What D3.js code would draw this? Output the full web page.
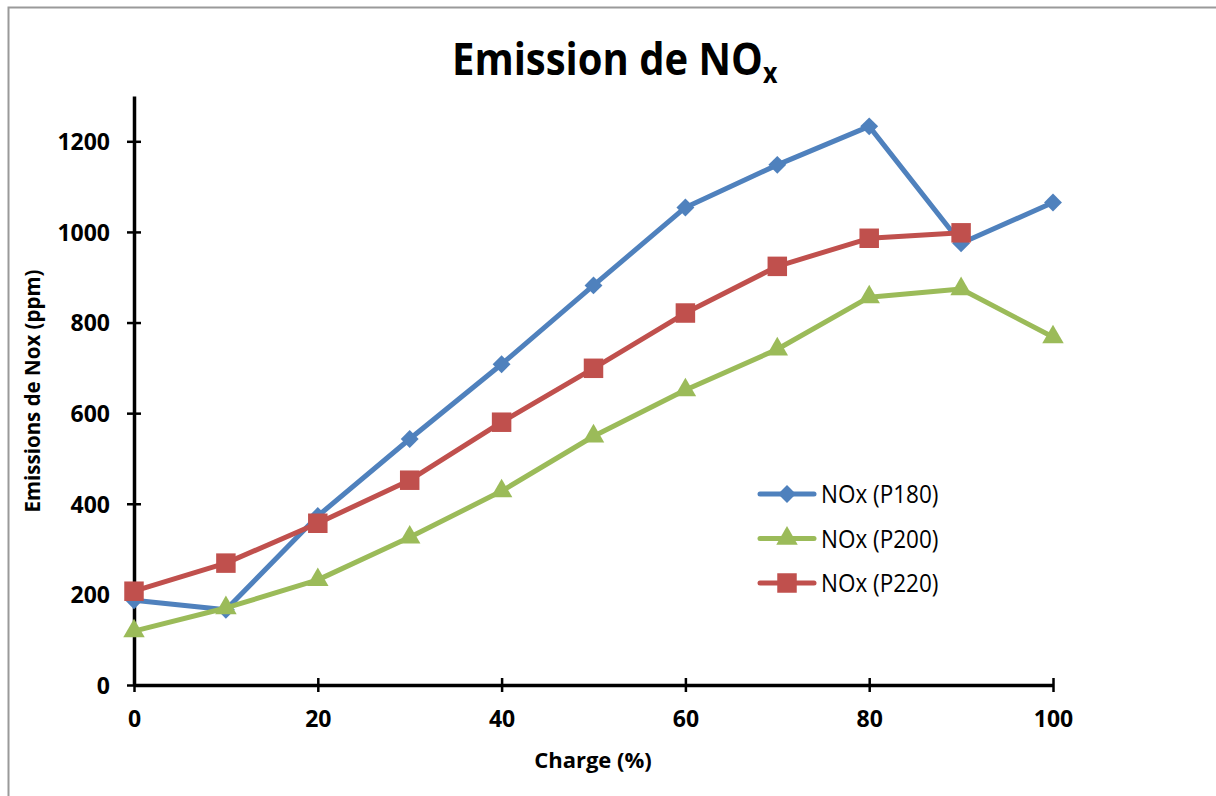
<!DOCTYPE html>
<html>
<head>
<meta charset="utf-8">
<script src="https://cdn.jsdelivr.net/npm/d3@7"></script>
<style>
  html, body { margin: 0; padding: 0; background: #fff; }
  svg { display: block; }
  .narrow { font-family: "Open Sans", "Liberation Sans", sans-serif; }
</style>
</head>
<body>
<svg id="chart" width="1216" height="796"></svg>
<script>
// Charge (%) values along the x axis
const charge = [0, 10, 20, 30, 40, 50, 60, 70, 80, 90, 100];

// NOx emissions (ppm) for each injection pressure
const noxP180 = [187, 166, 373, 543, 708, 882, 1054, 1148, 1233, 975, 1065];
const noxP200 = [119, 170, 232, 326, 428, 549, 651, 741, 856, 874, 768];
const noxP220 = [207, 269, 357, 452, 580, 699, 821, 924, 986, 998];

const xTicks = [0, 20, 40, 60, 80, 100];
const yTicks = [0, 200, 400, 600, 800, 1000, 1200];

const seriesNames = ["NOx (P180)", "NOx (P200)", "NOx (P220)"];

const series = [
  { name: seriesNames[0], values: noxP180, color: "#4F81BD", symbol: d3.symbolSquare, size: 160, rot: 45 },
  { name: seriesNames[1], values: noxP200, color: "#9BBB59", symbol: d3.symbolTriangle, size: 200, rot: 0 },
  { name: seriesNames[2], values: noxP220, color: "#C0504D", symbol: d3.symbolSquare, size: 380, rot: 0 }
];

const svg = d3.select("#chart");

// outer frame
svg.append("path")
  .attr("d", "M8.5,796 L8.5,7.5 L1216,7.5")
  .attr("fill", "none")
  .attr("stroke", "#9a9a9a")
  .attr("stroke-width", 2);

const x = d3.scaleLinear().domain([0, 100]).range([134, 1053]);
const y = d3.scaleLinear().domain([0, 1300]).range([685, 96]);

// title with subscript
const title = svg.append("text")
  .attr("class", "narrow")
  .attr("transform", "translate(452,75) scale(1,1.12)")
  .style("font-weight", "bold")
  .style("font-size", "40px")
  .attr("fill", "#000");
title.append("tspan").text("Emission de NO");
title.append("tspan")
  .attr("dy", 7)
  .style("font-size", "25px")
  .text("x");

// x axis
const xAxis = svg.append("g")
  .attr("transform", `translate(0,${y(0)})`)
  .call(d3.axisBottom(x).tickValues(xTicks).tickSize(7).tickSizeOuter(0).tickFormat(d3.format("d")));
xAxis.select(".domain").attr("stroke", "#000").attr("stroke-width", 3.5);
xAxis.selectAll(".tick line")
  .attr("y1", -7)
  .attr("y2", 7)
  .attr("stroke", "#000")
  .attr("stroke-width", 2.5);
xAxis.selectAll(".tick text")
  .attr("class", "narrow")
  .attr("y", 42)
  .attr("dy", 0)
  .style("font-size", "23px")
  .style("font-weight", "bold")
  .attr("fill", "#000");

// y axis
const yAxis = svg.append("g")
  .attr("transform", `translate(${x(0)},0)`)
  .call(d3.axisLeft(y).tickValues(yTicks).tickSize(7).tickSizeOuter(0).tickFormat(d3.format("d")));
yAxis.select(".domain").attr("stroke", "#000").attr("stroke-width", 3.5);
yAxis.selectAll(".tick line")
  .attr("x1", -7)
  .attr("x2", 7)
  .attr("stroke", "#000")
  .attr("stroke-width", 2.5);
yAxis.selectAll(".tick text")
  .attr("class", "narrow")
  .attr("x", -24)
  .attr("dy", "0.36em")
  .style("font-size", "23px")
  .style("font-weight", "bold")
  .attr("fill", "#000");

// axis titles
svg.append("text")
  .attr("class", "narrow")
  .attr("x", 593)
  .attr("y", 768)
  .attr("text-anchor", "middle")
  .style("font-size", "22px")
  .style("font-weight", "bold")
  .text("Charge (%)");

svg.append("text")
  .attr("class", "narrow")
  .attr("transform", "translate(40,391) rotate(-90)")
  .attr("text-anchor", "middle")
  .style("font-size", "20.5px")
  .style("font-weight", "bold")
  .text("Emissions de Nox (ppm)");

// lines and markers
const line = d3.line()
  .x((d, i) => x(charge[i]))
  .y(d => y(d));

series.forEach(s => {
  const g = svg.append("g");
  g.append("path")
    .attr("d", line(s.values))
    .attr("fill", "none")
    .attr("stroke", s.color)
    .attr("stroke-width", 5)
    .attr("stroke-linejoin", "round")
    .attr("stroke-linecap", "round");
  g.selectAll("path.marker")
    .data(s.values)
    .join("path")
    .attr("class", "marker")
    .attr("d", d3.symbol().type(s.symbol).size(s.size))
    .attr("transform", (d, i) => `translate(${x(charge[i])},${y(d)}) rotate(${s.rot})`)
    .attr("fill", s.color);
});

// legend
const legend = svg.append("g");
series.forEach((s, i) => {
  const ly = 494 + i * 44.5;
  legend.append("line")
    .attr("x1", 760).attr("x2", 814)
    .attr("y1", ly).attr("y2", ly)
    .attr("stroke", s.color)
    .attr("stroke-width", 5)
    .attr("stroke-linecap", "round");
  legend.append("path")
    .attr("d", d3.symbol().type(s.symbol).size(s.size))
    .attr("transform", `translate(787,${ly}) rotate(${s.rot})`)
    .attr("fill", s.color);
  legend.append("text")
    .attr("class", "narrow")
    .attr("transform", `translate(821,${ly + 9}) scale(1,1.1)`)
    .style("font-size", "22.5px")
    .attr("fill", "#000")
    .text(s.name);
});
</script>
</body>
</html>
